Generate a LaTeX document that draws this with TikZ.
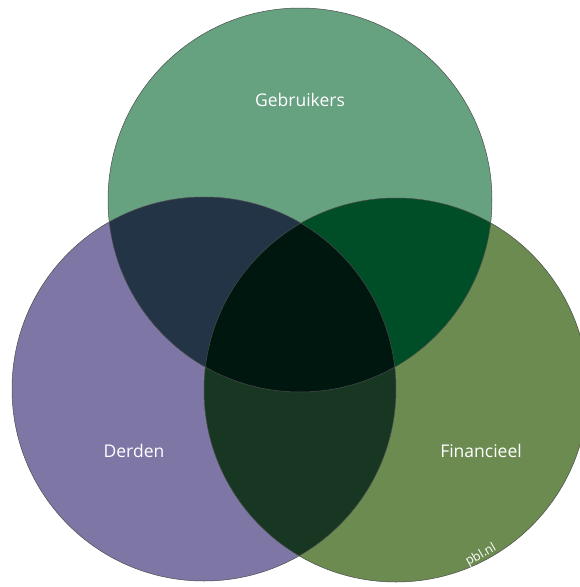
\documentclass[tikz,border=0pt]{standalone}
\usepackage{fontspec}
\setmainfont{Open Sans}
\definecolor{cTop}{HTML}{66A180}
\definecolor{cLeft}{HTML}{7E77A6}
\definecolor{cRight}{HTML}{6C8B51}
\definecolor{cTL}{HTML}{233446}
\definecolor{cTR}{HTML}{004E27}
\definecolor{cLR}{HTML}{173723}
\definecolor{cAll}{HTML}{001710}
\begin{document}
\begin{tikzpicture}[x=1pt,y=-1pt,
  lbl/.style={text=white,font=\fontsize{17.5}{20}\selectfont},
  rim/.style={draw=black!70,line width=0.5pt}]
\useasboundingbox (0,0) rectangle (580,587);
\def\R{192}
\coordinate (T) at (300,200);
\coordinate (L) at (204,389);
\coordinate (F) at (396,390);
% base fills
\fill[cTop] (T) circle[radius=\R];
\fill[cLeft] (L) circle[radius=\R];
\fill[cRight] (F) circle[radius=\R];
% pairwise overlaps
\begin{scope}
  \clip (T) circle[radius=\R];
  \fill[cTL] (L) circle[radius=\R];
\end{scope}
\begin{scope}
  \clip (T) circle[radius=\R];
  \fill[cTR] (F) circle[radius=\R];
\end{scope}
\begin{scope}
  \clip (L) circle[radius=\R];
  \fill[cLR] (F) circle[radius=\R];
\end{scope}
\begin{scope}
  \clip (T) circle[radius=\R];
  \clip (L) circle[radius=\R];
  \fill[cAll] (F) circle[radius=\R];
\end{scope}
% outlines
\draw[rim] (T) circle[radius=\R];
\draw[rim] (L) circle[radius=\R];
\draw[rim] (F) circle[radius=\R];
% labels
\node[lbl] (gebr) at (300,100) {Gebruikers};
\node[lbl] (derd) at (134,451) {Derden};
\node[lbl] (fin) at (481,451) {Financieel};
\node[text=white,font=\fontsize{12.5}{14}\selectfont,rotate=30,inner sep=0pt] (pbl) at (481,555) {pbl.nl};
\end{tikzpicture}
\end{document}
